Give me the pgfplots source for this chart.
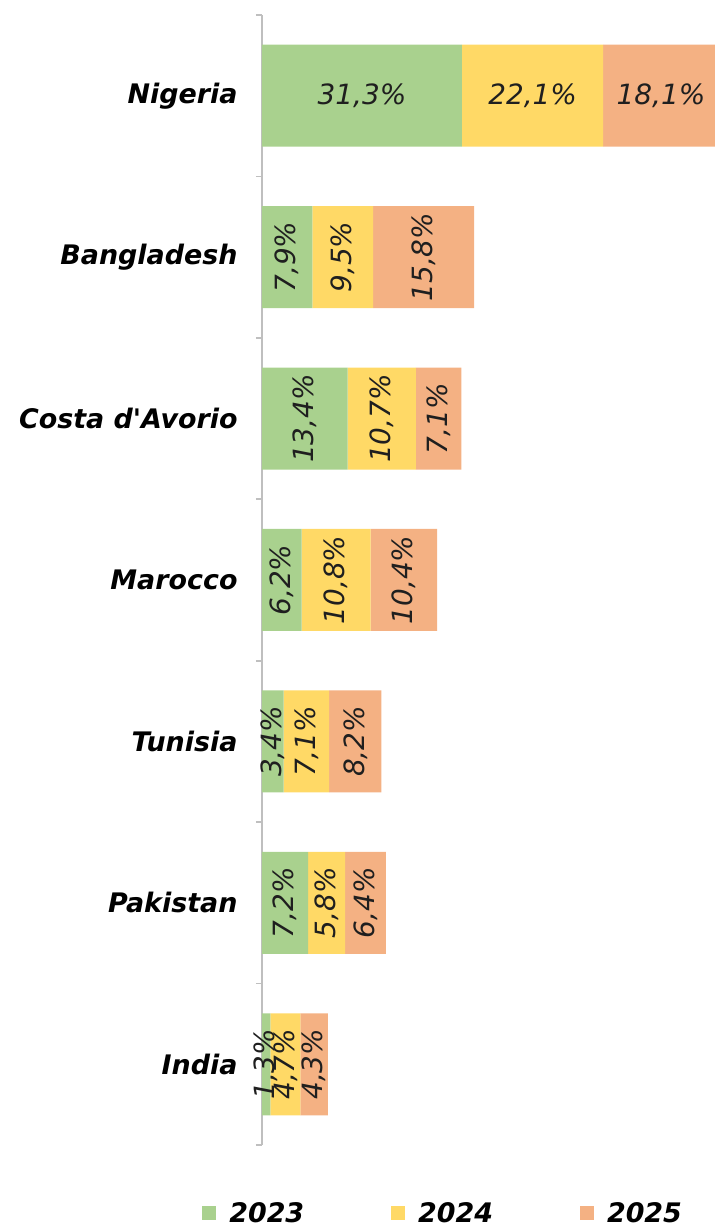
\documentclass[border=0pt]{standalone}
\usepackage{fontspec}
\setmainfont{DejaVu Sans}
\usepackage{pgfplots}
\pgfplotsset{compat=1.18}
\usepackage{pgfplotstable}
\definecolor{cg}{HTML}{A9D18E}
\definecolor{cy}{HTML}{FFD966}
\definecolor{co}{HTML}{F4B183}
\definecolor{axc}{HTML}{BFBFBF}

\pgfplotstableread{
y a b c
0 1.3 4.7 4.3
1 7.2 5.8 6.4
2 3.4 7.1 8.2
3 6.2 10.8 10.4
4 13.4 10.7 7.1
5 7.9 9.5 15.8
6 31.3 22.1 18.1
}\data

\pgfplotsset{
  seglabel/.style={
    point meta=explicit,
    visualization depends on={rawy\as\vy},
    nodes near coords={\pgfmathprintnumber[fixed,fixed zerofill,precision=1,use comma,assume math mode=true]{\pgfplotspointmeta}\%},
    every node near coord/.append style={anchor=center, inner sep=0pt,
      font=\fontsize{28}{32}\selectfont\itshape, text=black!88,
      rotate={ifthenelse(\vy==6,0,90)}},
  },
}

\begin{document}
\begin{tikzpicture}[x=1bp,y=1bp]
\begin{axis}[
  at={(0,0)}, anchor=south west,
  scale only axis, width=457.5bp, height=1130bp,
  xbar stacked, bar width=102bp,
  xmin=0, xmax=71.6, ymin=-0.5, ymax=6.5,
  axis x line=none,
  axis y line*=left,
  y axis line style={axc, line width=1.6bp},
  ytick={0,1,2,3,4,5,6},
  yticklabels={India,Pakistan,Tunisia,Marocco,Costa d\textquotesingle Avorio,Bangladesh,Nigeria},
  major tick length=0pt,
  minor ytick={-0.5,0.5,1.5,2.5,3.5,4.5,5.5,6.5},
  minor tick length=6bp,
  tick align=outside,
  minor tick style={axc, line width=1.6bp},
  yticklabel style={font=\fontsize{27}{32}\selectfont\bfseries\itshape, text=black, xshift=-21bp},
  legend style={at={(0.397,-0.060)}, anchor=center, draw=none, fill=none,
    legend columns=3, font=\fontsize{27}{30}\selectfont\bfseries\itshape,
    /tikz/every even column/.append style={column sep=84bp},
    /tikz/every odd column/.append style={column sep=10bp},
    nodes={inner sep=3bp}},
  legend image code/.code={\fill[#1] (0bp,-7bp) rectangle (14bp,7bp);},
]
\addplot[fill=cg, draw=none, seglabel] table[x=a, y=y, meta=a]{\data};
\addlegendentry{2023}
\addplot[fill=cy, draw=none, seglabel] table[x=b, y=y, meta=b]{\data};
\addlegendentry{2024}
\addplot[fill=co, draw=none, seglabel] table[x=c, y=y, meta=c]{\data};
\addlegendentry{2025}
\end{axis}
\pgfresetboundingbox
\useasboundingbox (-262bp,-82bp) rectangle (453bp,1145bp);
\end{tikzpicture}
\end{document}
